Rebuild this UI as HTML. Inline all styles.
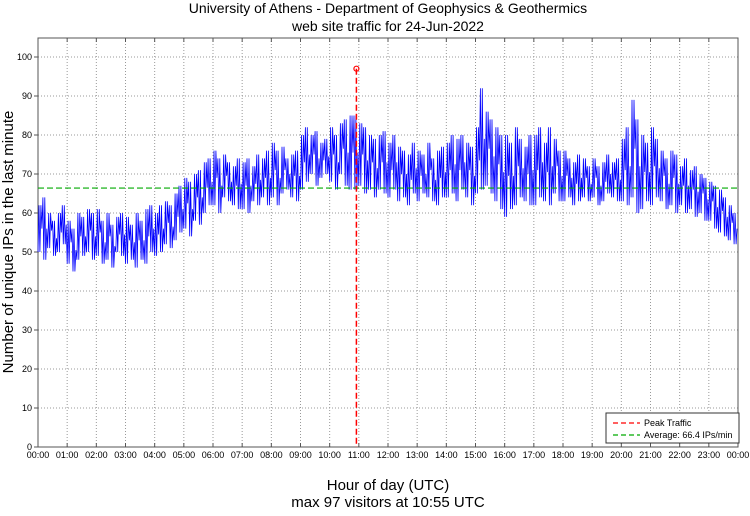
<!DOCTYPE html>
<html><head><meta charset="utf-8"><style>
body{margin:0;background:#fff;}
svg text{font-family:"Liberation Sans",sans-serif;}
</style></head><body>
<svg id="chart" width="750" height="511" xmlns="http://www.w3.org/2000/svg">
<rect width="750" height="511" fill="#fff"/>
<text x="388" y="13" font-size="14" text-anchor="middle">University of Athens - Department of Geophysics &amp; Geothermics</text>
<text x="388" y="31" font-size="14" text-anchor="middle">web site traffic for 24-Jun-2022</text>
<g id="grid"></g>
<g id="axes"></g>
<g id="series"></g>
<text transform="translate(13,242) rotate(-90)" font-size="15" text-anchor="middle">Number of unique IPs in the last minute</text>
<text x="388" y="490" font-size="15" text-anchor="middle">Hour of day (UTC)</text>
<text x="388" y="507" font-size="15" text-anchor="middle">max 97 visitors at 10:55 UTC</text>
<g>
<rect x="606" y="413" width="133" height="30" fill="#fff" stroke="#333" stroke-width="1"/>
<line x1="613" y1="423" x2="640" y2="423" stroke="#ff0000" stroke-dasharray="5,3" stroke-width="1.3"/>
<text x="644" y="426" font-size="9">Peak Traffic</text>
<line x1="613" y1="435" x2="640" y2="435" stroke="#00aa00" stroke-dasharray="5,3" stroke-width="1.3"/>
<text x="644" y="438" font-size="9">Average: 66.4 IPs/min</text>
</g>
</svg>
<script>
const yTicks=[0,10,20,30,40,50,60,70,80,90,100];
const xTickLabels=["00:00","01:00","02:00","03:00","04:00","05:00","06:00","07:00","08:00","09:00","10:00","11:00","12:00","13:00","14:00","15:00","16:00","17:00","18:00","19:00","20:00","21:00","22:00","23:00","00:00"];
// 10-minute buckets: low and high of the per-minute visitor count
const bucketLow=[
50,48,51,49,50,52, 47,45,48,49,50,48, 49,47,48,46,50,49, 47,48,46,48,47,50,
49,50,52,51,53,55, 56,54,58,57,60,62, 62,60,64,63,62,61, 61,60,63,62,64,62,
64,62,65,66,64,63, 66,68,70,67,69,70, 68,66,70,67,66,66, 67,65,66,64,66,65,
64,66,63,64,62,65, 63,65,64,63,62,64, 64,65,63,66,64,62, 65,66,67,65,63,61,
59,61,62,64,63,62, 62,64,63,62,65,63, 63,64,62,63,64,63, 64,62,63,65,64,63,
63,62,64,60,61,63, 62,64,63,61,62,60, 62,60,61,59,60,58, 58,56,55,54,53,52];
const bucketHigh=[
62,64,60,58,60,62, 58,56,60,59,61,60, 61,58,60,57,59,60, 59,57,60,58,61,62,
60,62,63,62,65,67, 69,68,70,71,73,74, 76,74,75,73,72,74, 73,74,72,75,74,76,
78,76,77,74,75,76, 80,82,80,81,78,79, 82,80,83,84,85,85, 83,82,80,79,80,81,
78,80,77,76,75,78, 76,75,78,74,76,77, 78,80,79,80,78,77, 82,92,86,84,82,80,
80,78,82,79,77,80, 80,82,78,82,79,76, 76,74,73,75,74,72, 74,72,73,75,73,74,
79,82,89,84,80,78, 82,79,76,74,76,75, 72,74,71,72,70,69, 68,67,66,64,62,60];
const average=66.4, peakMinute=655, peakValue=97;
const X0=38,X1=738,Y0=447,YS=3.9;
const xs=m=>X0+(X1-X0)*m/1440, ys=v=>Y0-v*YS;
const NS='http://www.w3.org/2000/svg';
function mk(t,a,p){const e=document.createElementNS(NS,t);for(const k in a)e.setAttribute(k,a[k]);p.appendChild(e);return e;}
const grid=document.getElementById('grid'),axes=document.getElementById('axes'),ser=document.getElementById('series');
mk('rect',{x:X0,y:38,width:X1-X0,height:Y0-38,fill:'none',stroke:'#555','stroke-width':1},axes);
yTicks.forEach(v=>{const y=ys(v);
 if(v>0){const g=mk('line',{x1:X0,x2:X1,y1:y,y2:y,stroke:'#999','stroke-dasharray':'1,2','stroke-width':1},grid);}
 mk('line',{x1:X0-4,x2:X0,y1:y,y2:y,stroke:'#555'},axes);
 const t=mk('text',{x:X0-6,y:y+3,'font-size':9,'text-anchor':'end'},axes);t.textContent=v;
 
 });
xTickLabels.forEach((l,i)=>{const x=xs(i*60);
 if(i>0&&i<24){const g=mk('line',{x1:x,x2:x,y1:38,y2:Y0,stroke:'#999','stroke-dasharray':'1,2','stroke-width':1},grid);
 mk('line',{x1:x,x2:x,y1:38,y2:42,stroke:'#555'},axes);mk('line',{x1:x,x2:x,y1:Y0-4,y2:Y0,stroke:'#555'},axes);}
 const t=mk('text',{x:x,y:458,'font-size':9,'text-anchor':'middle'},axes);t.textContent=l;
 
 });
let pts=[];
bucketLow.forEach((lo,i)=>{const hi=bucketHigh[i];
 const seq=i%2?[hi,lo,hi,lo,(hi+lo)/2]:[lo,hi,lo,hi,(hi+lo)/2];
 seq.forEach((v,k)=>pts.push(xs(i*10+k*2).toFixed(1)+','+ys(v).toFixed(1)));});
const pl=mk('polyline',{points:pts.join(' '),fill:'none',stroke:'#0000ff','stroke-width':0.8},ser);


const av=mk('line',{x1:X0,x2:X1,y1:ys(average),y2:ys(average),stroke:'#00aa00','stroke-dasharray':'6,3','stroke-width':1.2},ser);


const pk=mk('line',{x1:xs(peakMinute),x2:xs(peakMinute),y1:ys(peakValue),y2:Y0,stroke:'#ff0000','stroke-dasharray':'6,3','stroke-width':1.5},ser);


const pc=mk('circle',{cx:xs(peakMinute),cy:ys(peakValue),r:2.5,fill:'none',stroke:'#ff0000','stroke-width':1.2},ser);


</script>
</body></html>
